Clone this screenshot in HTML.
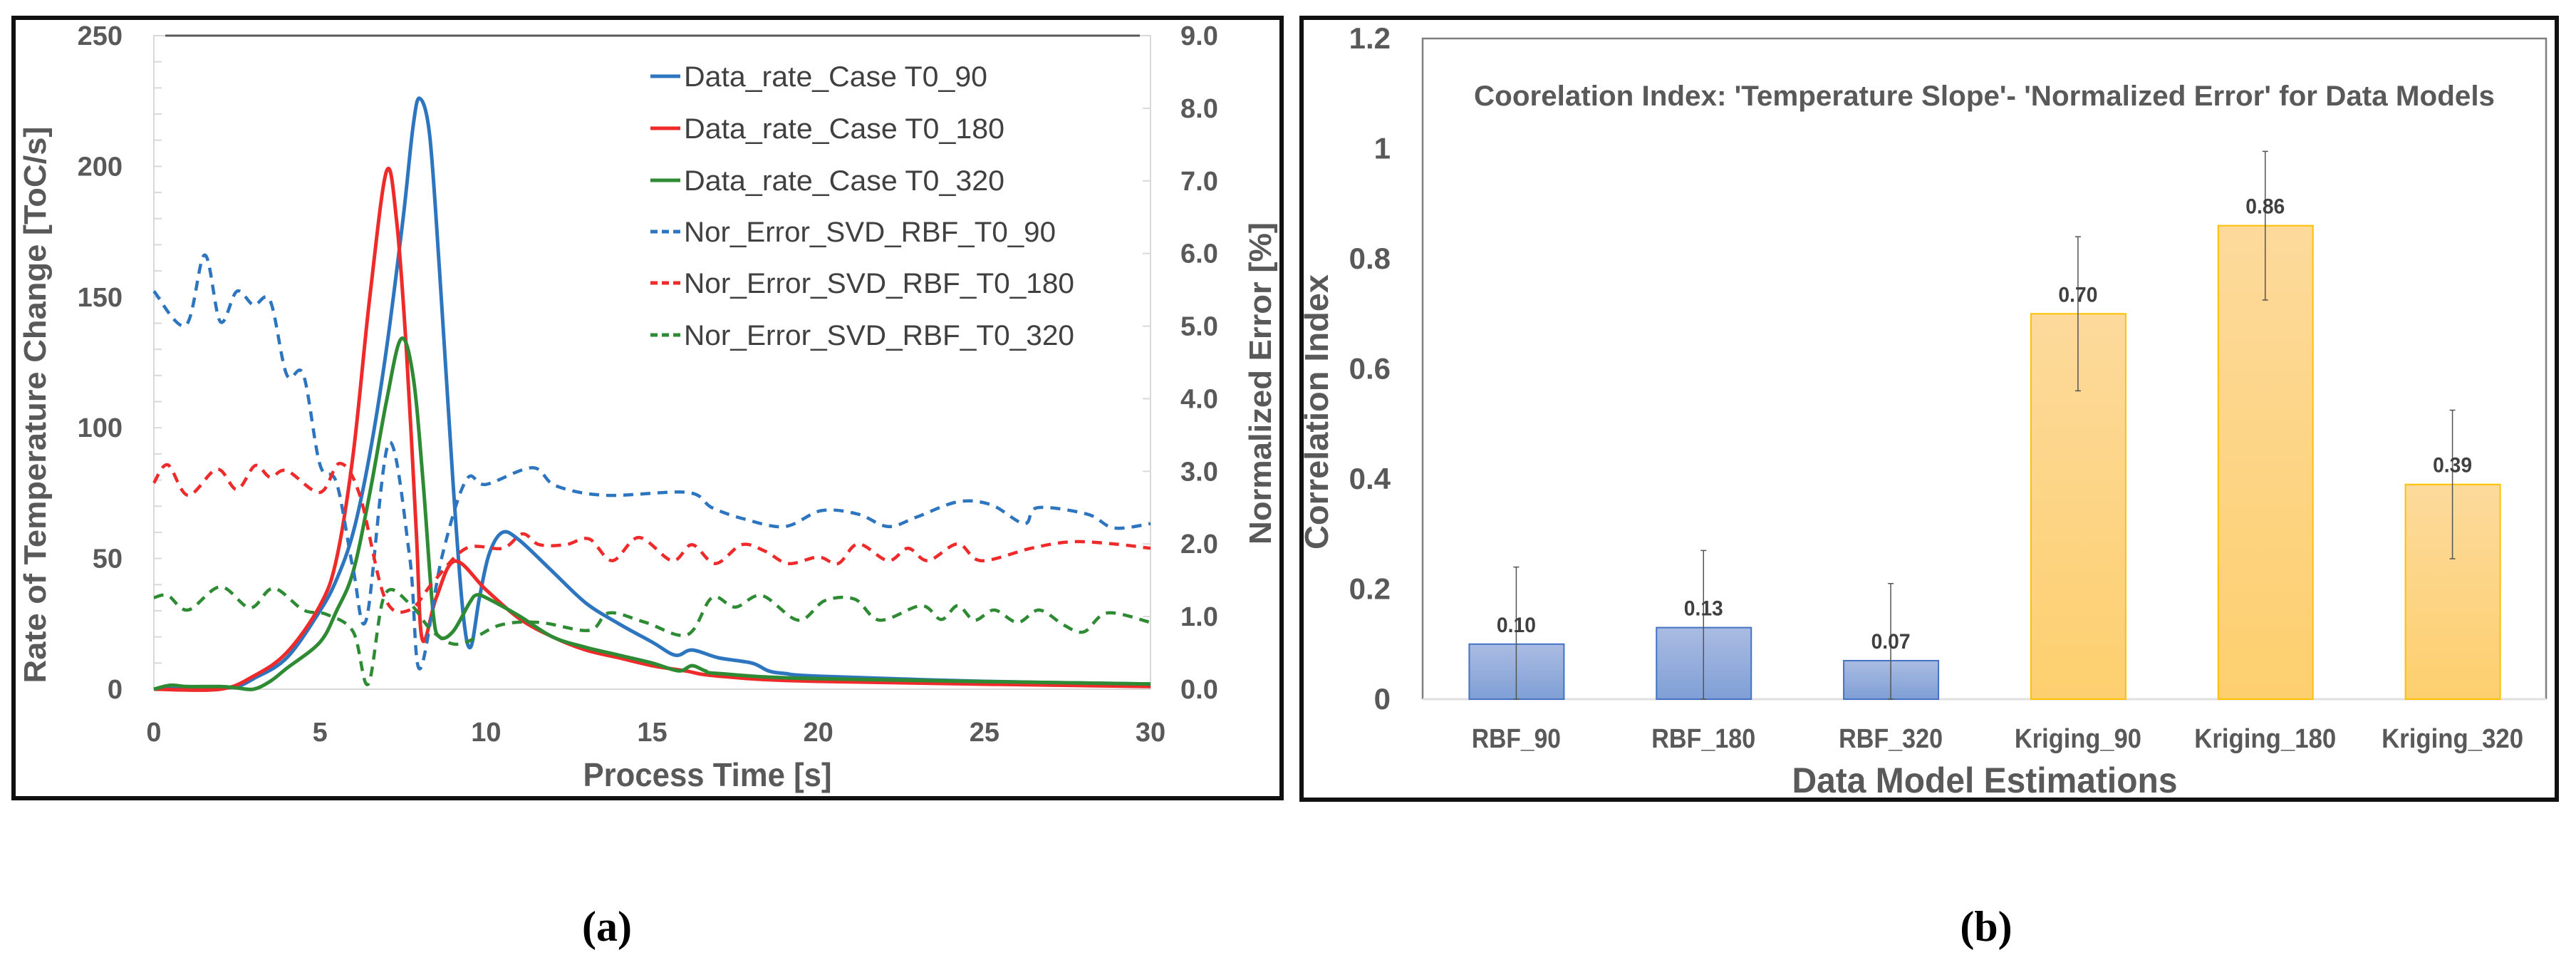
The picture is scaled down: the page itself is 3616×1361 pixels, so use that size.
<!DOCTYPE html>
<html><head><meta charset="utf-8"><style>
html,body{margin:0;padding:0;background:#fff;}
svg{display:block;font-family:"Liberation Sans",sans-serif;}
</style></head><body>
<svg id="s" width="3616" height="1361" viewBox="0 0 3616 1361" xmlns="http://www.w3.org/2000/svg">
<rect x="19" y="25" width="1780" height="1095" fill="none" stroke="#111" stroke-width="6"/>
<rect x="1827" y="25" width="1762" height="1097" fill="none" stroke="#111" stroke-width="6"/>
<g id="ga"></g>
<g id="gb"></g>
<text x="852" y="1320" text-anchor="middle" font-family="Liberation Serif,serif" font-weight="bold" font-size="60" fill="#000">(a)</text>
<text x="2788" y="1320" text-anchor="middle" font-family="Liberation Serif,serif" font-weight="bold" font-size="60" fill="#000">(b)</text>
</svg>
<script>
const NS="http://www.w3.org/2000/svg";
// ---------- Panel (a) data ----------
const xTicks=[0,5,10,15,20,25,30];
const yLeftTicks=[0,50,100,150,200,250];
const yRightTicks=["0.0","1.0","2.0","3.0","4.0","5.0","6.0","7.0","8.0","9.0"];
const seriesNames=["Data_rate_Case T0_90","Data_rate_Case T0_180","Data_rate_Case T0_320","Nor_Error_SVD_RBF_T0_90","Nor_Error_SVD_RBF_T0_180","Nor_Error_SVD_RBF_T0_320"];
const rate90=[[0,0],[1,0.5],[2,0.5],[2.5,1],[3,4],[4,12],[5,30],[5.5,42],[6,60],[6.5,90],[7,130],[7.5,180],[7.8,215],[8.0,226],[8.3,212],[8.6,160],[9,80],[9.3,30],[9.53,16],[9.8,35],[10.1,52],[10.5,60],[11,57],[12,45],[13,33],[14,25],[15,18],[15.7,13],[16.2,15],[17,12],[18,10],[18.5,7],[19,6],[20,5],[25,3],[30,2]];
const rate180=[[0,0],[2,0],[3,5],[4,14],[5,32],[5.5,50],[6,90],[6.5,150],[7.0,198],[7.3,180],[7.6,130],[7.9,60],[8.08,19],[8.5,35],[9.06,49],[10,38],[11,27],[12,20],[13,15],[14,12],[15,9],[16,7],[17,5],[20,3],[30,1]];
const rate320=[[0,0],[0.5,1.5],[1,1],[2,1],[2.5,0.5],[3,0],[3.5,3],[4,8],[5,18],[5.5,30],[6,45],[6.5,75],[7,110],[7.44,134],[7.8,120],[8.1,80],[8.4,30],[8.6,20],[9,22],[9.5,33],[9.7,36],[10,35],[11,28],[12,20],[13,16],[14,13],[15,10],[15.8,7],[16.2,9],[16.6,7],[17,6],[20,4],[30,2]];
const err90=[[0,5.48],[0.96,5.01],[1.53,5.98],[2.0,5.06],[2.5,5.48],[3.0,5.29],[3.5,5.35],[4.0,4.33],[4.5,4.33],[5.0,3.09],[5.5,2.84],[6.0,1.65],[6.4,0.97],[7.07,3.39],[7.7,1.82],[8.0,0.28],[8.67,1.82],[9.4,2.88],[10.0,2.82],[11.4,3.05],[12.1,2.8],[13.6,2.67],[16.06,2.71],[16.8,2.5],[17.8,2.34],[19.0,2.24],[20.1,2.46],[21.2,2.41],[22.1,2.24],[22.96,2.37],[24.2,2.58],[25.2,2.54],[26.2,2.28],[26.6,2.5],[28.1,2.41],[28.9,2.22],[30,2.28]];
const err180=[[0,2.84],[0.42,3.09],[1.03,2.67],[1.9,3.03],[2.5,2.75],[3.05,3.08],[3.5,2.92],[4.0,3.01],[5.0,2.71],[5.6,3.11],[6.2,2.67],[6.95,1.26],[7.7,1.09],[8.4,1.47],[9.4,1.94],[10.5,1.94],[11.1,2.14],[11.6,1.99],[12.4,1.99],[13.1,2.07],[13.8,1.77],[14.6,2.09],[15.6,1.77],[16.2,1.99],[16.9,1.73],[17.7,1.99],[18.4,1.9],[19.1,1.73],[20.0,1.82],[20.6,1.73],[21.2,2.0],[22.1,1.77],[22.7,1.94],[23.3,1.77],[24.2,2.0],[24.9,1.77],[26.4,1.94],[27.6,2.03],[28.9,2.0],[30,1.94]];
const err320=[[0,1.26],[0.42,1.29],[1.03,1.09],[2.0,1.41],[2.9,1.12],[3.6,1.39],[4.5,1.09],[5.2,1.03],[6.0,0.79],[6.45,0.07],[6.95,1.3],[7.7,1.18],[8.4,0.79],[9.2,0.62],[10.4,0.88],[11.6,0.92],[13.1,0.81],[13.7,1.05],[14.8,0.92],[16.06,0.75],[16.8,1.26],[17.5,1.13],[18.3,1.29],[19.4,0.95],[20.2,1.22],[21.1,1.24],[21.85,0.95],[23.1,1.15],[23.7,0.96],[24.2,1.15],[24.7,0.95],[25.3,1.09],[26.0,0.92],[26.65,1.09],[27.4,0.88],[28.0,0.79],[28.7,1.05],[30,0.92]];
// ---------- Panel (b) data ----------
const categories=["RBF_90","RBF_180","RBF_320","Kriging_90","Kriging_180","Kriging_320"];
const corrValues=[0.10,0.13,0.07,0.70,0.86,0.39];
const corrErrors=[0.14,0.14,0.14,0.14,0.135,0.135];
const corrLabels=["0.10","0.13","0.07","0.70","0.86","0.39"];
const yBarTicks=["0","0.2","0.4","0.6","0.8","1","1.2"];

function el(tag,attrs,parent,txt){const e=document.createElementNS(NS,tag);for(const k in attrs)e.setAttribute(k,attrs[k]);if(txt!==undefined)e.textContent=txt;parent.appendChild(e);return e;}
function smooth(pts){let d="M"+pts[0][0].toFixed(1)+","+pts[0][1].toFixed(1);for(let i=0;i<pts.length-1;i++){const p0=pts[Math.max(0,i-1)],p1=pts[i],p2=pts[i+1],p3=pts[Math.min(pts.length-1,i+2)];const t=6;d+=" C"+(p1[0]+(p2[0]-p0[0])/t).toFixed(1)+","+(p1[1]+(p2[1]-p0[1])/t).toFixed(1)+" "+(p2[0]-(p3[0]-p1[0])/t).toFixed(1)+","+(p2[1]-(p3[1]-p1[1])/t).toFixed(1)+" "+p2[0].toFixed(1)+","+p2[1].toFixed(1);}return d;}

// ----- Panel a -----
const ga=document.getElementById('ga');
const AX0=216,AX1=1615,AY0=967,AY1=50;
const xs=v=>AX0+(v-0)/30*(AX1-AX0);
const yl=v=>AY0-v/250*(AY0-AY1);
const yr=v=>AY0-v/9*(AY0-AY1);
let r;
r=el('rect',{x:AX0,y:AY1,width:AX1-AX0,height:AY0-AY1,fill:'#fff',stroke:'#d9d9d9','stroke-width':2},ga);

r=el('line',{x1:232,y1:AY1,x2:1600,y2:AY1,stroke:'#595959','stroke-width':3},ga);

for(let v=10;v<250;v+=10){r=el('line',{x1:AX0,x2:AX0+11,y1:yl(v),y2:yl(v),stroke:'#d9d9d9','stroke-width':2},ga);}
for(let v=1;v<9;v++){r=el('line',{x1:AX1-11,x2:AX1,y1:yr(v),y2:yr(v),stroke:'#d9d9d9','stroke-width':2},ga);}
yLeftTicks.forEach(v=>{r=el('text',{x:172,y:yl(v)+13,'text-anchor':'end','font-size':38,'font-weight':'bold',fill:'#595959'},ga,String(v));});
yRightTicks.forEach(s=>{r=el('text',{x:1657,y:yr(parseFloat(s))+13,'font-size':38,'font-weight':'bold',fill:'#595959'},ga,s);});
xTicks.forEach(v=>{r=el('text',{x:xs(v),y:1040,'text-anchor':'middle','font-size':38,'font-weight':'bold',fill:'#595959'},ga,String(v));});
r=el('text',{x:993,y:1103,'text-anchor':'middle','font-size':46,'font-weight':'bold',fill:'#595959',textLength:349,lengthAdjust:'spacingAndGlyphs'},ga,'Process Time [s]');

r=el('text',{x:0,y:0,'text-anchor':'middle','font-size':44,'font-weight':'bold',fill:'#595959',textLength:781,lengthAdjust:'spacingAndGlyphs',transform:'translate(64,568) rotate(-90)'},ga,'Rate of Temperature Change [ToC/s]');

r=el('text',{x:0,y:0,'text-anchor':'middle','font-size':44,'font-weight':'bold',fill:'#595959',textLength:452,lengthAdjust:'spacingAndGlyphs',transform:'translate(1784,538) rotate(-90)'},ga,'Normalized Error [%]');

const cols=['#2e75c0','#ee2a2a','#2e8b34'];
const solids=[rate90,rate180,rate320],dashes=[err90,err180,err320];
solids.forEach((s,i)=>{r=el('path',{d:smooth(s.map(p=>[xs(p[0]),yl(p[1])])),fill:'none',stroke:cols[i],'stroke-width':5},ga);});
dashes.forEach((s,i)=>{r=el('path',{d:smooth(s.map(p=>[xs(p[0]),yr(p[1])])),fill:'none',stroke:cols[i],'stroke-width':4.5,'stroke-dasharray':'14 10'},ga);});
const legY=[107,180,253,325,397,470];
seriesNames.forEach((n,i)=>{
  const g=el('g',{},ga);
  el('line',{x1:913,x2:955,y1:legY[i],y2:legY[i],stroke:cols[i%3],'stroke-width':5,'stroke-dasharray':i>=3?'10 6':'none'},g);
  const w=[426,450,450,522,548,548][i];
  el('text',{x:960,y:legY[i]+14,'font-size':40,fill:'#404040',textLength:w,lengthAdjust:'spacingAndGlyphs'},g,n);
});
// ----- Panel b -----
const gb=document.getElementById('gb');
const BX0=1997,BX1=3574,BY0=981,BY1=54;
const yb=v=>BY0-v/1.2*(BY0-BY1);
const bw=(BX1-BX0)/categories.length;
const defs=el('defs',{},gb);
const gr1=el('linearGradient',{id:'gBlue',x1:0,y1:0,x2:0,y2:1},defs);el('stop',{offset:0,'stop-color':'#aabce2'},gr1);el('stop',{offset:1,'stop-color':'#7f9fd5'},gr1);
const gr2=el('linearGradient',{id:'gOr',x1:0,y1:0,x2:0,y2:1},defs);el('stop',{offset:0,'stop-color':'#fdda9c'},gr2);el('stop',{offset:1,'stop-color':'#fdcf6e'},gr2);
r=el('path',{d:`M${BX0},${BY0} V${BY1} H${BX1} V${BY0}`,fill:'none',stroke:'#7f7f7f','stroke-width':2.5},gb);
r=el('line',{x1:BX0,x2:BX1,y1:BY0,y2:BY0,stroke:'#e0e0e0','stroke-width':3},gb);
yBarTicks.forEach(s=>{r=el('text',{x:1952,y:yb(parseFloat(s))+14,'text-anchor':'end','font-size':42,fill:'#595959','font-weight':'bold'},gb,s);});
r=el('text',{x:2069,y:148,'font-size':40,'font-weight':'bold',fill:'#595959',textLength:1433,lengthAdjust:'spacingAndGlyphs'},gb,"Coorelation Index: 'Temperature Slope'- 'Normalized Error' for Data Models");

const catW=[125,146,146,178,199,199];
categories.forEach((c,i)=>{
  const cx=BX0+bw*(i+0.5),v=corrValues[i],k=i>=3;
  r=el('rect',{x:cx-66,y:yb(v),width:133,height:BY0-yb(v),fill:k?'url(#gOr)':'url(#gBlue)',stroke:k?'#ffc000':'#4472c4','stroke-width':2},gb);
  
  const lo=Math.max(0,v-corrErrors[i]),hi=v+corrErrors[i];
  r=el('path',{d:`M${cx},${yb(lo)} V${yb(hi)} M${cx-4},${yb(hi)} H${cx+4} M${cx-4},${yb(lo)} H${cx+4}`,stroke:'#555','stroke-width':1.5,fill:'none'},gb);
  
  r=el('text',{x:cx,y:yb(v)-17,'text-anchor':'middle','font-size':30,'font-weight':'bold',fill:'#404040',textLength:55,lengthAdjust:'spacingAndGlyphs'},gb,corrLabels[i]);
  
  r=el('text',{x:cx,y:1049,'text-anchor':'middle','font-size':38,'font-weight':'bold',fill:'#595959',textLength:catW[i],lengthAdjust:'spacingAndGlyphs'},gb,c);
  
});
r=el('text',{x:2786,y:1112,'text-anchor':'middle','font-size':50,'font-weight':'bold',fill:'#595959',textLength:541,lengthAdjust:'spacingAndGlyphs'},gb,'Data Model Estimations');

r=el('text',{x:0,y:0,'text-anchor':'middle','font-size':46,'font-weight':'bold',fill:'#595959',textLength:386,lengthAdjust:'spacingAndGlyphs',transform:'translate(1864,578) rotate(-90)'},gb,'Correlation Index');

</script>
</body></html>
